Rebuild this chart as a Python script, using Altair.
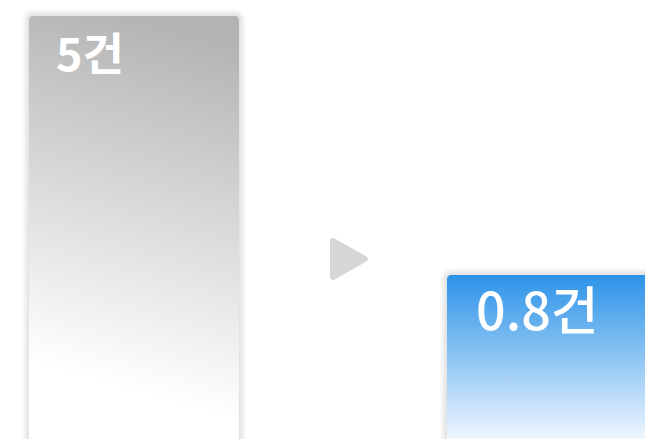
import altair as alt
import pandas as pd

# ---- data ----
categories = ["이전", "이후"]
values = [5, 0.8]
labels = ["5건", "0.8건"]
order = [0, 1]

df = pd.DataFrame({"category": categories, "value": values, "label": labels, "idx": order})
arrow_df = pd.DataFrame({"idx": [0.5]})

W, H = 645, 439
BAR_W = 210
Y_DOMAIN = [-1.8595, 5.2595]
X_DOMAIN = [-0.3206, 1.2225]

xenc = alt.X("idx:Q", scale=alt.Scale(domain=X_DOMAIN, nice=False, zero=False, padding=0), axis=None)
yenc = alt.Y("value:Q", scale=alt.Scale(domain=Y_DOMAIN, zero=False, nice=False, padding=0), axis=None)
base = alt.Chart(df)

layers = []
# soft shadow approximation
for k in range(1, 8):
    layers.append(
        base.mark_bar(
            width=BAR_W + 2 * k, yOffset=-k, color="black", opacity=0.014,
            cornerRadiusTopLeft=4 + k, cornerRadiusTopRight=4 + k, clip=True,
        ).encode(x=xenc, y=yenc, y2=alt.datum(Y_DOMAIN[0] - 1))
    )

gray_grad = alt.Gradient(
    gradient="linear",
    stops=[alt.GradientStop(color="#b3b3b3", offset=0),
           alt.GradientStop(color="#ffffff", offset=0.88),
           alt.GradientStop(color="#ffffff", offset=1)],
    x1=0.57, y1=0, x2=0.43, y2=1,
)
blue_grad = alt.Gradient(
    gradient="linear",
    stops=[alt.GradientStop(color="#2d93e8", offset=0),
           alt.GradientStop(color="#eef6fe", offset=1)],
    x1=0, y1=0, x2=0, y2=1,
)

layers.append(
    base.transform_filter(alt.datum.idx == 0).mark_bar(
        width=BAR_W, color=gray_grad, cornerRadiusTopLeft=4, cornerRadiusTopRight=4, clip=True
    ).encode(x=xenc, y=yenc, y2=alt.datum(Y_DOMAIN[0]))
)
layers.append(
    base.transform_filter(alt.datum.idx == 1).mark_bar(
        width=BAR_W, color=blue_grad, cornerRadiusTopLeft=4, cornerRadiusTopRight=4, clip=True
    ).encode(x=xenc, y=yenc, y2=alt.datum(Y_DOMAIN[0]))
)

layers.append(
    base.transform_filter(alt.datum.idx == 0).mark_text(
        align="left", baseline="alphabetic", dx=-78, dy=55,
        font="Noto Sans CJK KR", fontSize=45, fontWeight="bold", color="white",
    ).encode(x=xenc, y=yenc, text="label:N")
)
layers.append(
    base.transform_filter(alt.datum.idx == 1).mark_text(
        align="left", baseline="alphabetic", dx=-76, dy=55,
        font="Noto Sans CJK KR", fontSize=52, fontWeight=500, color="white",
    ).encode(x=xenc, y=yenc, text="label:N")
)

# arrow between the bars
layers.append(
    alt.Chart(arrow_df).mark_point(
        shape="M-1,-1.125L1,0L-1,1.125Z", size=1024, filled=True, color="#d6d6d6",
        opacity=1, stroke="#d6d6d6", strokeWidth=6, strokeJoin="round", xOffset=6,
    ).encode(x=xenc, y=alt.value(259))
)

chart = alt.layer(*layers).properties(
    width=W, height=H, padding=0, autosize=alt.AutoSizeParams(type="none"),
    background="white",
).configure_view(stroke=None)

chart.save("out.html", embed_options={"renderer": "svg", "actions": False})
